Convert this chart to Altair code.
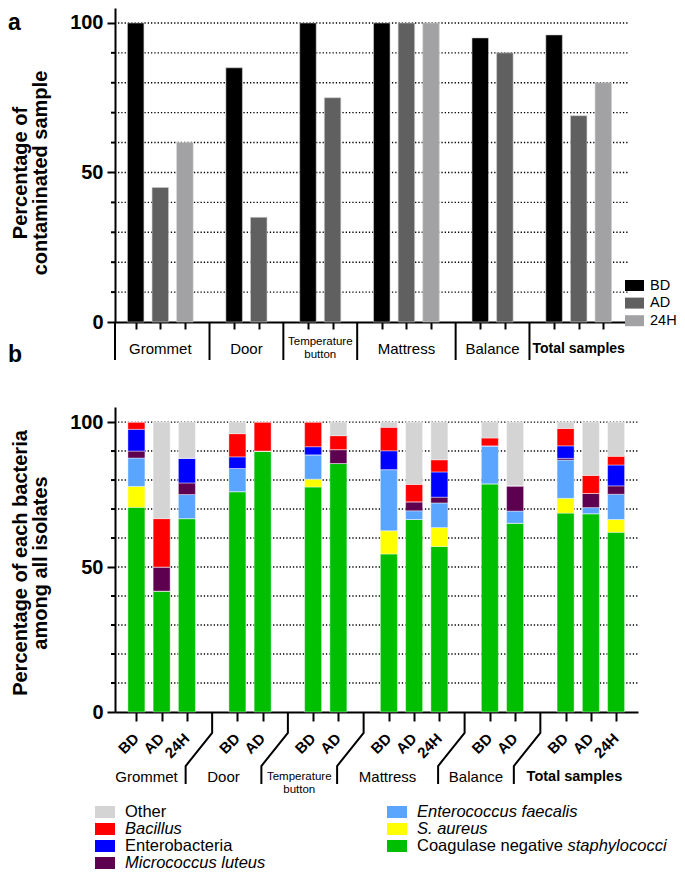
import altair as alt
import pandas as pd

FONT = "Liberation Sans"

# ---------------- data ----------------
groups = ["Grommet", "Door", "Temperature button", "Mattress", "Balance", "Total samples"]
group_times = [["BD", "AD", "24H"], ["BD", "AD"], ["BD", "AD"],
               ["BD", "AD", "24H"], ["BD", "AD"], ["BD", "AD", "24H"]]
times = ["BD", "AD", "24H"]

# panel a: percentage of contaminated samples
contam_bd = [100, 85, 100, 100, 95, 96]
contam_ad = [45, 35, 75, 100, 90, 69]
contam_24h = [60, None, None, 100, None, 80]

# panel b: percentage of each bacteria among isolates (bars in order of appearance)
bacteria = ["Coagulase negative staphylococci", "S. aureus", "Enterococcus faecalis",
            "Micrococcus luteus", "Enterobacteria", "Bacillus", "Other"]
cons = [70.6, 41.7, 66.7, 76.0, 90.0, 77.6, 85.7, 54.5, 66.4, 57.1, 78.7, 65.1, 68.6, 68.4, 62.0]
saureus = [7.2, 0, 0, 0, 0, 2.7, 0, 8.0, 0, 6.5, 0, 0, 5.1, 0, 4.4]
efaecalis = [9.8, 0, 8.3, 8.0, 0, 8.4, 0, 21.1, 3.0, 8.5, 13.1, 4.2, 13.2, 2.1, 8.7]
mluteus = [2.4, 8.3, 4.0, 0, 0, 0, 4.8, 0, 3.1, 2.0, 0, 8.7, 0.6, 4.9, 2.9]
entero = [7.5, 0, 8.5, 4.0, 0, 2.8, 0, 6.5, 0, 8.7, 0, 0, 4.3, 0, 7.2]
bacillus = [2.5, 16.7, 0, 8.0, 10.0, 8.5, 4.8, 8.1, 6.0, 4.2, 2.7, 0, 6.0, 6.2, 3.0]
other = [0, 33.3, 12.5, 4.0, 0, 0, 4.7, 1.8, 21.5, 13.0, 5.5, 22.0, 2.2, 18.4, 11.8]

# ---------------- styling ----------------
time_colors = ["#000000", "#606060", "#a2a2a4"]
bact_colors = ["#00bf00", "#ffff00", "#5aa5ff", "#5e0050", "#0000ff", "#ff0000", "#d4d4d4"]
italic_names = ["Bacillus", "Micrococcus luteus", "Enterococcus faecalis", "S. aureus"]

# ---------------- derived tables ----------------
series_a = {"BD": contam_bd, "AD": contam_ad, "24H": contam_24h}
rows_a, bar_rows, sep_slots, group_slots = [], [], [], []
slot = 0
for gi, (g, tl) in enumerate(zip(groups, group_times)):
    sl = []
    for t in tl:
        bar_rows.append({"group": g, "time": t, "slot": slot})
        v = series_a[t][gi]
        if v is not None:
            rows_a.append({"group": g, "time": t, "slot": slot, "value": v})
        sl.append(slot)
        slot += 1
    group_slots.append(sl)
    if gi < len(groups) - 1:
        sep_slots.append(slot)
        slot += 1
df_a = pd.DataFrame(rows_a)
df_bars = pd.DataFrame(bar_rows)
bar_slot_list = df_bars["slot"].tolist()

series_b = [cons, saureus, efaecalis, mluteus, entero, bacillus, other]
rows_b = []
for bi, (name, vals) in enumerate(zip(bacteria, series_b)):
    for k, v in enumerate(vals):
        rows_b.append({"bacteria": name, "ord": bi, "slot": bar_rows[k]["slot"], "value": v})
df_b = pd.DataFrame(rows_b)

mids = [sum(s) / len(s) for s in group_slots]
shift_b = [-0.6] + [-1.05] * (len(groups) - 2) + [-0.65]
glab = pd.DataFrame({"group": groups, "mid": mids,
                     "mid_b": [m + s for m, s in zip(mids, shift_b)]})
sep_df = pd.DataFrame({"slot": sep_slots})
one = pd.DataFrame({"k": [0]})

W_A, H_A = 513, 314
W_B, H_B = 523, 305
xa = alt.Scale(domain=[-0.637, 19.8], nice=False, zero=False)
ya = alt.Scale(domain=[0, 105], nice=False, zero=False)
xb = alt.Scale(domain=[-0.65, 19.67], nice=False, zero=False)
yb = alt.Scale(domain=[0, 105.2], nice=False, zero=False)
time_scale = alt.Scale(domain=times, range=time_colors)
bact_scale = alt.Scale(domain=bacteria, range=bact_colors)

grid_df = pd.DataFrame({"v": list(range(10, 101, 10))})
minor_df = pd.DataFrame({"v": [10, 20, 30, 40, 60, 70, 80, 90]})

Y_AXIS = alt.Axis(values=[0, 50, 100], grid=False, tickSize=8, tickWidth=2, tickColor="black",
                  domainColor="black", domainWidth=2, labelFont=FONT, labelFontSize=20,
                  labelFontWeight="bold", labelColor="black", labelPadding=4, title=None)
XA_AXIS = alt.Axis(values=bar_slot_list, labels=False, tickSize=7, tickWidth=2, tickColor="black",
                   domainColor="black", domainWidth=2, grid=False, title=None)
XB_AXIS = alt.Axis(values=bar_slot_list, labels=False, tickSize=9, tickWidth=2, tickColor="black",
                   domainColor="black", domainWidth=2, grid=False, title=None)
NO_VIEW = alt.ViewBackground(stroke=None, fill=None)


def grid_layer(ys, w):
    return alt.Chart(grid_df).mark_rule(color="black", strokeDash=[1.3, 2.0], strokeWidth=1.4).encode(
        y=alt.Y("v:Q", scale=ys, axis=Y_AXIS), x=alt.value(3), x2=alt.value(w))


def minor_layer(ys):
    return alt.Chart(minor_df).mark_rule(color="black", strokeWidth=2).encode(
        y=alt.Y("v:Q", scale=ys, axis=Y_AXIS), x=alt.value(-4), x2=alt.value(0))


def text_value(txt, x, y, **kw):
    return alt.Chart(one).mark_text(font=FONT, color="black", **kw).encode(
        x=alt.value(x), y=alt.value(y), text=alt.value(txt))


plain = [g for g in groups if g not in ("Temperature button", "Total samples")]

# ---------------- panel a ----------------
bars_a = alt.Chart(df_a).mark_bar(width=16.5, stroke="#d0d0d0", strokeWidth=0.6).encode(
    x=alt.X("slot:Q", scale=xa, axis=XA_AXIS),
    y=alt.Y("value:Q", scale=ya, axis=Y_AXIS),
    color=alt.Color("time:N", scale=time_scale, legend=None))

seps_a = alt.Chart(sep_df).mark_rule(color="black", strokeWidth=2).encode(
    x=alt.X("slot:Q", scale=xa, axis=XA_AXIS), y=alt.value(H_A), y2=alt.value(H_A + 38))
ext_a = alt.Chart(one).mark_rule(color="black", strokeWidth=2).encode(
    x=alt.value(0), y=alt.value(H_A), y2=alt.value(H_A + 38))

lab_a1 = alt.Chart(glab).transform_filter(
    alt.FieldOneOfPredicate(field="group", oneOf=plain)).mark_text(
    font=FONT, fontSize=15, baseline="middle", align="center", color="black").encode(
    x=alt.X("mid:Q", scale=xa, axis=XA_AXIS), y=alt.value(H_A + 27), text="group:N")
lab_a2 = alt.Chart(glab).transform_filter(alt.datum.group == "Temperature button").mark_text(
    font=FONT, fontSize=11.5, baseline="top", align="center", color="black",
    lineBreak=" ", lineHeight=13).encode(
    x=alt.X("mid:Q", scale=xa, axis=XA_AXIS), y=alt.value(H_A + 14), text="group:N")
lab_a3 = alt.Chart(glab).transform_filter(alt.datum.group == "Total samples").mark_text(
    font=FONT, fontSize=14, fontWeight="bold", baseline="middle", align="center",
    color="black").encode(
    x=alt.X("mid:Q", scale=xa, axis=XA_AXIS), y=alt.value(H_A + 27), text="group:N")

leg_a_df = pd.DataFrame({"time": times})
leg_a_base = alt.Chart(leg_a_df).transform_window(i="row_number()").transform_calculate(
    y0="272 + (datum.i - 1) * 17.6", y1="283 + (datum.i - 1) * 17.6",
    ym="277.5 + (datum.i - 1) * 17.6")
leg_a_sw = leg_a_base.mark_rect().encode(
    x=alt.value(510), x2=alt.value(529),
    y=alt.Y("y0:Q", scale=None), y2="y1:Q",
    color=alt.Color("time:N", scale=time_scale, legend=None))
leg_a_tx = leg_a_base.mark_text(font=FONT, fontSize=14.5, align="left", baseline="middle",
                                color="black").encode(
    x=alt.value(535), y=alt.Y("ym:Q", scale=None), text="time:N")

letter_a = text_value("a", -107, 4, fontSize=23, fontWeight="bold", align="left", baseline="top")
title_a = text_value(["Percentage of", "contaminated sample"], -104, 165, fontSize=20,
                     fontWeight="bold", align="center", baseline="top", angle=270, lineHeight=20)

panel_a = alt.layer(grid_layer(ya, W_A), minor_layer(ya), bars_a, seps_a, ext_a,
                    lab_a1, lab_a2, lab_a3, leg_a_sw, leg_a_tx, letter_a, title_a
                    ).properties(width=W_A, height=H_A, view=NO_VIEW)

# ---------------- panel b ----------------
bars_b = alt.Chart(df_b).mark_bar(width=17, stroke="#ffffff", strokeWidth=0.4).encode(
    x=alt.X("slot:Q", scale=xb, axis=XB_AXIS),
    y=alt.Y("value:Q", stack="zero", scale=yb, axis=Y_AXIS),
    color=alt.Color("bacteria:N", scale=bact_scale, legend=None),
    order=alt.Order("ord:Q", sort="ascending"))

xlab_b = alt.Chart(df_bars).mark_text(font=FONT, fontSize=15, fontWeight="bold", angle=315,
                                      align="right", baseline="middle", color="black").encode(
    x=alt.X("slot:Q", scale=xb, axis=XB_AXIS), y=alt.value(H_B + 24), text="time:N")

sep_pts = []
for s_i, s in enumerate(sep_slots):
    for k, (dxs, dyp) in enumerate([(0, 0), (0, 21), (-1.05, 54), (-1.05, 72)]):
        sep_pts.append({"sep": s_i, "k": k, "sx": s + dxs, "py": H_B + dyp})
seps_b = alt.Chart(pd.DataFrame(sep_pts)).mark_line(color="black", strokeWidth=2).encode(
    x=alt.X("sx:Q", scale=xb, axis=XB_AXIS), y=alt.Y("py:Q", scale=None),
    detail="sep:N", order="k:Q")

lab_b1 = alt.Chart(glab).transform_filter(
    alt.FieldOneOfPredicate(field="group", oneOf=plain)).mark_text(
    font=FONT, fontSize=15, baseline="middle", align="center", color="black").encode(
    x=alt.X("mid_b:Q", scale=xb, axis=XB_AXIS), y=alt.value(H_B + 65), text="group:N")
lab_b2 = alt.Chart(glab).transform_filter(alt.datum.group == "Temperature button").mark_text(
    font=FONT, fontSize=11.5, baseline="top", align="center", color="black",
    lineBreak=" ", lineHeight=13).encode(
    x=alt.X("mid_b:Q", scale=xb, axis=XB_AXIS), y=alt.value(H_B + 59), text="group:N")
lab_b3 = alt.Chart(glab).transform_filter(alt.datum.group == "Total samples").mark_text(
    font=FONT, fontSize=14.5, fontWeight="bold", baseline="middle", align="center",
    color="black").encode(
    x=alt.X("mid_b:Q", scale=xb, axis=XB_AXIS), y=alt.value(H_B + 65), text="group:N")

LEG_FS = 16.5
leg_b_df = pd.DataFrame({"bacteria": bacteria[::-1]})
leg_b_base = alt.Chart(leg_b_df).transform_window(j="row_number()").transform_calculate(
    col="floor((datum.j - 1) / 4)", row="(datum.j - 1) % 4").transform_calculate(
    sx0="-20 + datum.col * 292", sx1="0 + datum.col * 292", tx="10 + datum.col * 292",
    sy0="399 + datum.row * 17", sy1="411 + datum.row * 17", ty="405 + datum.row * 17")
leg_b_sw = leg_b_base.mark_rect().encode(
    x=alt.X("sx0:Q", scale=None), x2="sx1:Q",
    y=alt.Y("sy0:Q", scale=None), y2="sy1:Q",
    color=alt.Color("bacteria:N", scale=bact_scale, legend=None))
leg_b_norm = leg_b_base.transform_filter(
    alt.FieldOneOfPredicate(field="bacteria", oneOf=["Other", "Enterobacteria"])).mark_text(
    font=FONT, fontSize=LEG_FS, align="left", baseline="middle", color="black").encode(
    x=alt.X("tx:Q", scale=None), y=alt.Y("ty:Q", scale=None), text="bacteria:N")
leg_b_ital = leg_b_base.transform_filter(
    alt.FieldOneOfPredicate(field="bacteria", oneOf=italic_names)).mark_text(
    font=FONT, fontSize=LEG_FS, fontStyle="italic", align="left", baseline="middle",
    color="black").encode(
    x=alt.X("tx:Q", scale=None), y=alt.Y("ty:Q", scale=None), text="bacteria:N")
cons_base = leg_b_base.transform_filter(alt.datum.bacteria == bacteria[0]).transform_calculate(
    part1="split(datum.bacteria, ' ')[0] + ' ' + split(datum.bacteria, ' ')[1]",
    part2="split(datum.bacteria, ' ')[2]", tx2="datum.tx + 150.5")
leg_b_cons1 = cons_base.mark_text(font=FONT, fontSize=LEG_FS, align="left", baseline="middle",
                                  color="black").encode(
    x=alt.X("tx:Q", scale=None), y=alt.Y("ty:Q", scale=None), text="part1:N")
leg_b_cons2 = cons_base.mark_text(font=FONT, fontSize=LEG_FS, fontStyle="italic", align="left",
                                  baseline="middle", color="black").encode(
    x=alt.X("tx2:Q", scale=None), y=alt.Y("ty:Q", scale=None), text="part2:N")

letter_b = text_value("b", -107, -63, fontSize=23, fontWeight="bold", align="left", baseline="top")
title_b = text_value(["Percentage of each bacteria", "among all isolates"], -104, 156, fontSize=20,
                     fontWeight="bold", align="center", baseline="top", angle=270, lineHeight=20)

panel_b = alt.layer(grid_layer(yb, W_B), minor_layer(yb), bars_b, xlab_b, seps_b,
                    lab_b1, lab_b2, lab_b3, leg_b_sw, leg_b_norm, leg_b_ital,
                    leg_b_cons1, leg_b_cons2, letter_b, title_b
                    ).properties(width=W_B, height=H_B, view=NO_VIEW)

chart = alt.vconcat(panel_a, panel_b, spacing=85, bounds="flush").resolve_scale(
    color="independent").properties(padding=0).configure_view(stroke=None).configure(font=FONT)

chart.save("out.html", embed_options={"renderer": "svg", "actions": False})
